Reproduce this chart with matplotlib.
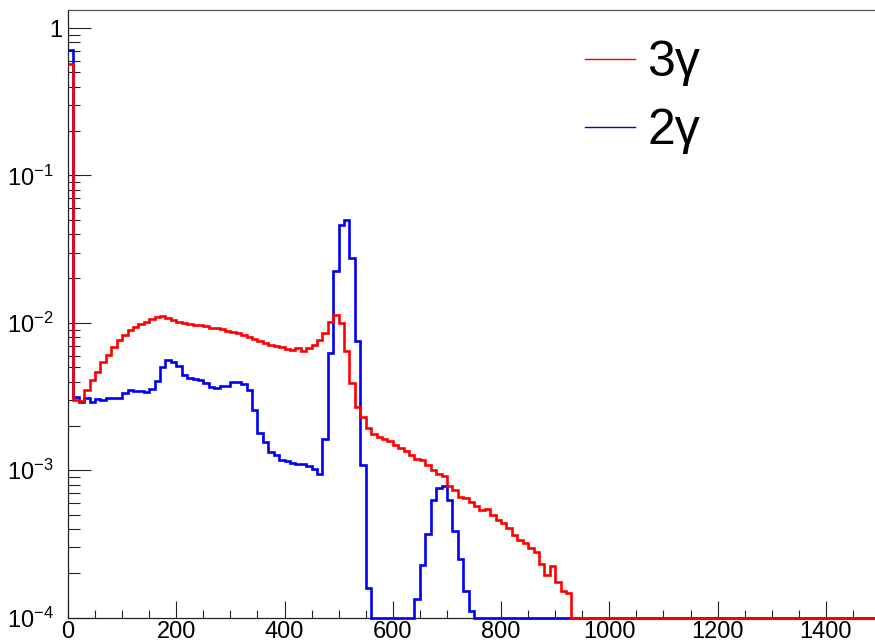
import numpy as np
import matplotlib
matplotlib.use("Agg")
import matplotlib.pyplot as plt
from matplotlib.ticker import FixedLocator, MultipleLocator, NullFormatter, FixedFormatter
from matplotlib.lines import Line2D
import matplotlib.transforms as mtransforms

plt.rcParams['font.family'] = ['Liberation Sans', 'DejaVu Sans']
plt.rcParams['mathtext.fontset'] = 'custom'
plt.rcParams['mathtext.rm'] = 'Liberation Sans'
plt.rcParams['mathtext.it'] = 'Liberation Sans:italic'
plt.rcParams['mathtext.bf'] = 'Liberation Sans:bold'

# ---------------- data ----------------
bin_width = 10
x_min, x_max = 0, 1500
bin_edges = np.arange(x_min, x_max + bin_width, bin_width)

series_labels = ['3\u03b3', '2\u03b3']
series_colors = ['#ff0000', '#0000ee']

counts_3g = [
    0.57, 3.0e-3, 2.95e-3, 3.5e-3, 4.09e-3, 4.66e-3, 5.39e-3, 6.05e-3, 6.89e-3, 7.64e-3,
    8.3e-3, 8.93e-3, 9.41e-3, 9.77e-3, 1.01e-2, 1.066e-2, 1.10e-2, 1.117e-2, 1.08e-2, 1.045e-2,
    1.02e-2, 9.95e-3, 9.8e-3, 9.7e-3, 9.6e-3, 9.45e-3, 9.17e-3, 9.17e-3, 9.03e-3, 8.85e-3,
    8.67e-3, 8.49e-3, 8.23e-3, 7.97e-3, 7.73e-3, 7.49e-3, 7.26e-3, 7.1e-3, 6.96e-3, 6.82e-3,
    6.6e-3, 6.5e-3, 6.7e-3, 6.4e-3, 6.8e-3, 7.1e-3, 7.6e-3, 8.5e-3, 1.02e-2, 1.13e-2,
    9.95e-3, 6.46e-3, 3.92e-3, 2.7e-3, 2.31e-3, 1.95e-3, 1.76e-3, 1.69e-3, 1.64e-3, 1.58e-3,
    1.48e-3, 1.41e-3, 1.36e-3, 1.27e-3, 1.2e-3, 1.17e-3, 1.08e-3, 1.0e-3, 9.5e-4, 9.1e-4,
    7.8e-4, 7.4e-4, 6.6e-4, 6.45e-4, 6.1e-4, 5.7e-4, 5.37e-4, 5.5e-4, 4.97e-4, 4.59e-4,
    4.36e-4, 4.04e-4, 3.63e-4, 3.36e-4, 3.19e-4, 2.95e-4, 2.8e-4, 2.33e-4, 1.94e-4, 2.24e-4,
    1.75e-4, 1.52e-4, 1.48e-4, 0, 0, 0, 0, 0, 0, 0,
    0, 0, 0, 0, 0, 0, 0, 0, 0, 0,
    0, 0, 0, 0, 0, 0, 0, 0, 0, 0,
    0, 0, 0, 0, 0, 0, 0, 0, 0, 0,
    0, 0, 0, 0, 0, 0, 0, 0, 0, 0,
    0, 0, 0, 0, 0, 0, 0, 0, 0, 0,
]

counts_2g = [
    0.71, 3.12e-3, 2.92e-3, 3.1e-3, 2.92e-3, 3.03e-3, 3.0e-3, 3.08e-3, 3.1e-3, 3.1e-3,
    3.32e-3, 3.5e-3, 3.47e-3, 3.43e-3, 3.38e-3, 3.54e-3, 4.05e-3, 5.0e-3, 5.6e-3, 5.45e-3,
    5.1e-3, 4.45e-3, 4.2e-3, 4.15e-3, 4.07e-3, 3.92e-3, 3.7e-3, 3.62e-3, 3.72e-3, 3.75e-3,
    3.95e-3, 3.95e-3, 3.85e-3, 3.5e-3, 2.55e-3, 1.8e-3, 1.55e-3, 1.34e-3, 1.27e-3, 1.17e-3,
    1.16e-3, 1.12e-3, 1.11e-3, 1.10e-3, 1.07e-3, 1.02e-3, 9.5e-4, 1.62e-3, 6.2e-3, 2.26e-2,
    4.61e-2, 4.98e-2, 2.74e-2, 7.56e-3, 1.08e-3, 1.58e-4, 0, 0, 0, 0,
    0, 0, 0, 0, 1.33e-4, 2.27e-4, 3.69e-4, 6.28e-4, 7.54e-4, 7.8e-4,
    6.28e-4, 3.87e-4, 2.49e-4, 1.52e-4, 1.11e-4, 0, 0, 0, 0, 0,
    0, 0, 0, 0, 0, 0, 0, 0, 0, 0,
    0, 0, 0, 0, 0, 0, 0, 0, 0, 0,
    0, 0, 0, 0, 0, 0, 0, 0, 0, 0,
    0, 0, 0, 0, 0, 0, 0, 0, 0, 0,
    0, 0, 0, 0, 0, 0, 0, 0, 0, 0,
    0, 0, 0, 0, 0, 0, 0, 0, 0, 0,
    0, 0, 0, 0, 0, 0, 0, 0, 0, 0,
]

x_tick_values = [0, 200, 400, 600, 800, 1000, 1200, 1400]
x_tick_labels = ['0', '200', '400', '600', '800', '1000', '1200', '1400']
y_tick_values = [1e-4, 1e-3, 1e-2, 1e-1, 1]
y_tick_labels = [r'$10^{-4}$', r'$10^{-3}$', r'$10^{-2}$', r'$10^{-1}$', '1']
y_min, y_max = 1e-4, 1.325

# ---------------- figure ----------------
W, H = 875, 644
fig = plt.figure(figsize=(W / 100, H / 100), dpi=100)
ax_left, ax_right, ax_top, ax_bottom = 68, 880, 10, 617.7
ax = fig.add_axes([ax_left / W, (H - ax_bottom) / H,
                   (ax_right - ax_left) / W, (ax_bottom - ax_top) / H])
ax.set_yscale('log')
ax.set_xlim(x_min, x_max)
ax.set_ylim(y_min, y_max)

# draw 2gamma first, 3gamma on top
for vals, col in [(counts_2g, series_colors[1]), (counts_3g, series_colors[0])]:
    v = np.asarray(vals, dtype=float)
    v = np.where(v > 0, v, y_min)  # empty bins drawn on the axis, as ROOT does
    ax.stairs(v, bin_edges, baseline=None, color=col, lw=1.9,
              clip_on=False, zorder=3)

# spines
for s in ['left', 'bottom']:
    ax.spines[s].set_color('#222222')
    ax.spines[s].set_linewidth(0.9)
ax.spines['top'].set_color('#555555')
ax.spines['top'].set_linewidth(0.9)
ax.spines['right'].set_visible(False)

# ticks
ax.xaxis.set_major_locator(FixedLocator(x_tick_values))
ax.xaxis.set_major_formatter(FixedFormatter(x_tick_labels))
ax.xaxis.set_minor_locator(MultipleLocator(50))
ax.yaxis.set_major_locator(FixedLocator(y_tick_values))
ax.yaxis.set_major_formatter(FixedFormatter(y_tick_labels))
minor_y = [m * 10.0 ** e for e in range(-4, 0) for m in range(2, 10)]
ax.yaxis.set_minor_locator(FixedLocator(minor_y))
ax.yaxis.set_minor_formatter(NullFormatter())

ax.tick_params(axis='x', which='major', direction='in', length=12.2, width=0.8,
               color='#222222', labelsize=17, pad=2.5, top=False)
ax.tick_params(axis='x', which='minor', direction='in', length=6.1, width=0.8,
               color='#222222', top=False)
ax.tick_params(axis='y', which='major', direction='in', length=16.6, width=0.8,
               color='#222222', labelsize=17, pad=10.5, right=False)
ax.tick_params(axis='y', which='minor', direction='in', length=8.6, width=0.8,
               color='#222222', right=False)

fig.canvas.draw()
for lab in ax.get_yticklabels():
    if lab.get_text() == '1':
        lab.set_transform(lab.get_transform() +
                          mtransforms.ScaledTranslation(9 / 100, 0, fig.dpi_scale_trans))

# legend
handles = [Line2D([], [], color=series_colors[0], lw=1.0),
           Line2D([], [], color=series_colors[1], lw=1.0)]
leg = ax.legend(handles, series_labels, loc='upper left',
                bbox_to_anchor=(585 / W, (H - 40) / H), bbox_transform=fig.transFigure,
                frameon=False, fontsize=36, handlelength=1.0, handletextpad=0.24,
                borderpad=0, borderaxespad=0, labelspacing=0.44)

fig.savefig('out.png', dpi=100)
